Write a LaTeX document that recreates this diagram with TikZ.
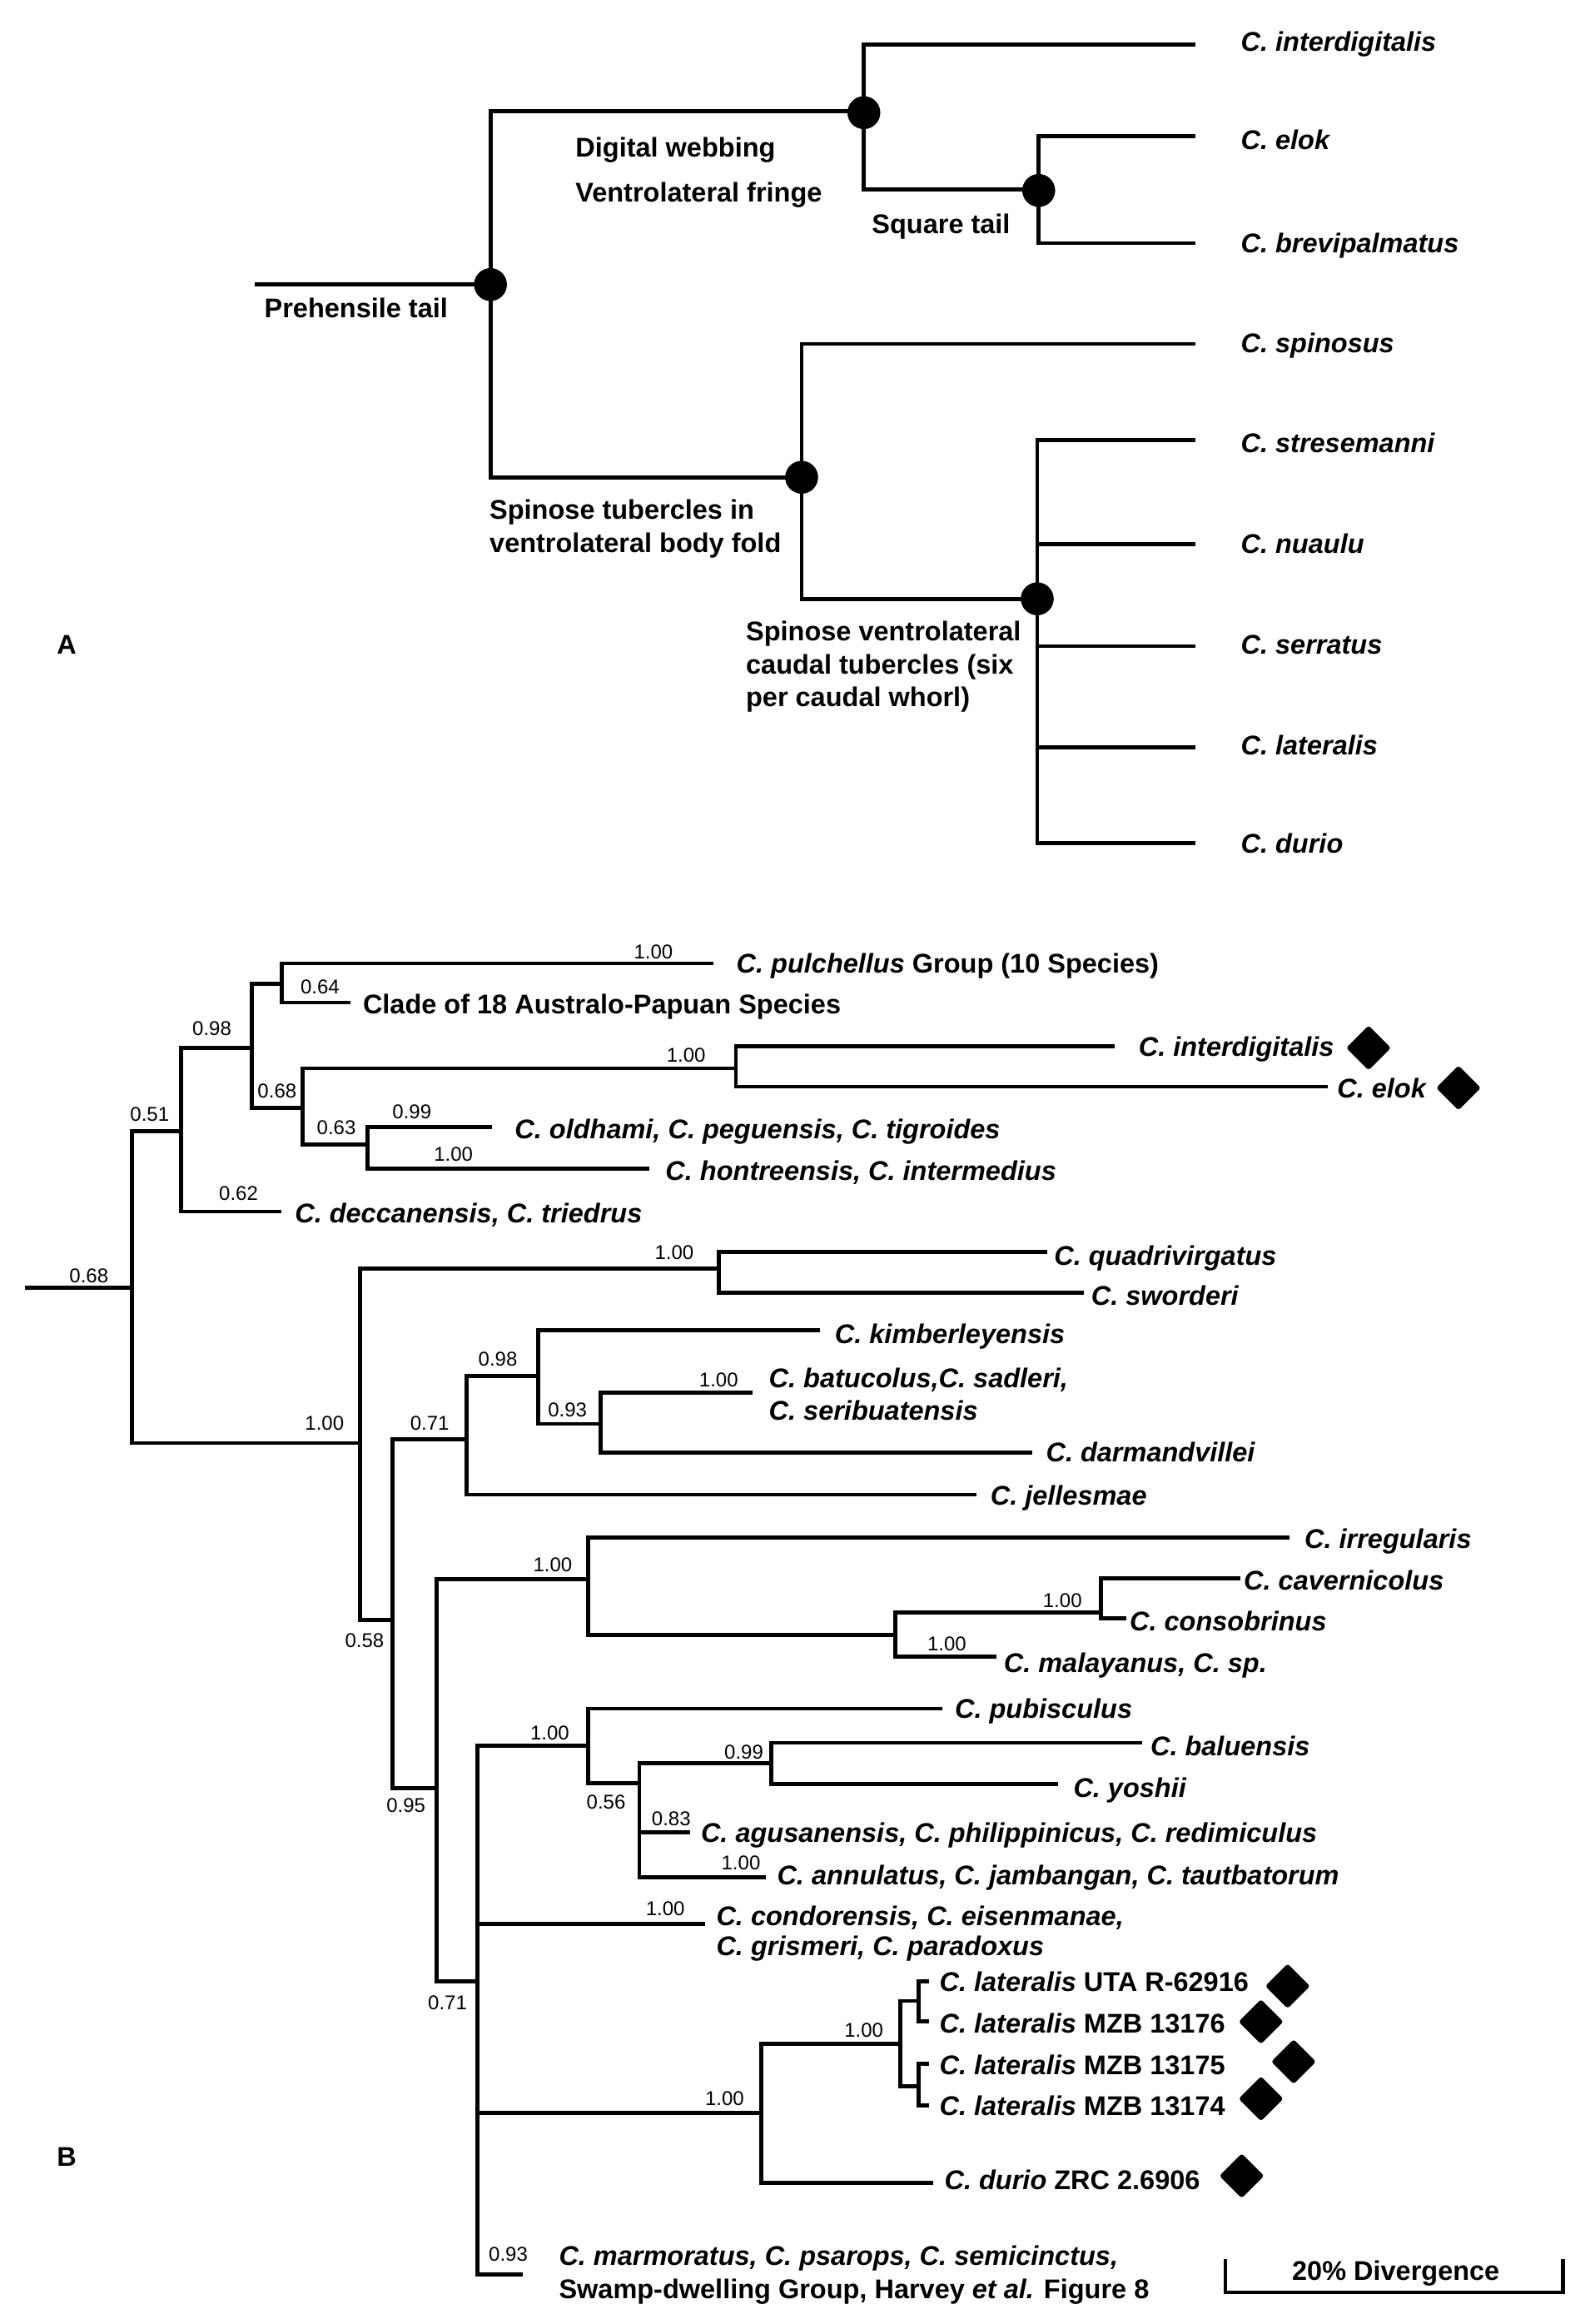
\documentclass[tikz,border=0pt]{standalone}
\usepackage{fontspec}
\setmainfont{Liberation Sans}
\usetikzlibrary{shapes.geometric}
\begin{document}
\begin{tikzpicture}[x=0.4449pt,y=-0.4449pt,
  br/.style={line width=1.2pt},
  tx/.style={font=\fontsize{8.12pt}{10pt}\selectfont\bfseries, inner sep=0pt, anchor=base west},
  num/.style={font=\fontsize{6pt}{7pt}\selectfont, inner sep=0pt},
  dot/.style={circle, fill=black, inner sep=0pt, minimum size=9.8pt},
  dia/.style={diamond, fill=black, inner sep=0pt, minimum width=13.6pt, minimum height=13.6pt, rounded corners=0.8pt}]
\useasboundingbox (0,0) rectangle (1076,1568);

% ================= Panel A =================
\coordinate (ar) at (172,192);
\node[dot] (a1) at (331,192) {};
\node[dot] (a2) at (583,76) {};
\node[dot] (a3) at (701,128.5) {};
\node[dot] (a4) at (541,322) {};
\node[dot] (a5) at (700,404) {};
\coordinate (a2in) at (583,75);
\coordinate (a3in) at (701,128);
\coordinate (a4in) at (541,322);
\coordinate (a5in) at (700,404);
\coordinate (at1) at (807,30);
\coordinate (at2) at (807,92);
\coordinate (at3) at (807,164);
\coordinate (at4) at (807,232);
\coordinate (at5) at (807,297);
\coordinate (at6) at (807,367);
\coordinate (at7) at (807,436);
\coordinate (at8) at (807,504);
\coordinate (at9) at (807,569);

\draw[br] (ar) -- (a1.center);
\draw[br] (a1.center) |- (a2in);
\draw[br] (a1.center) |- (a4in);
\draw[br] (a2.center) |- (at1);
\draw[br] (a2.center) |- (a3in);
\draw[br] (a3.center) |- (at2);
\draw[br] (a3.center) |- (at3);
\draw[br] (a4.center) |- (at4);
\draw[br] (a4.center) |- (a5in);
\foreach \t in {at5,at6,at7,at8,at9} \draw[br] (a5.center) |- (\t);
\node[dot] at (a1) {};
\node[dot] at (a2) {};
\node[dot] at (a3) {};
\node[dot] at (a4) {};
\node[dot] at (a5) {};

\node[tx] (la1) at (837,34.5) {\textit{C. interdigitalis}};
\node[tx] (la2) at (837,101) {\textit{C. elok}};
\node[tx] (la3) at (837,170.5) {\textit{C. brevipalmatus}};
\node[tx] (la4) at (837,238) {\textit{C. spinosus}};
\node[tx] (la5) at (837,305.5) {\textit{C. stresemanni}};
\node[tx] (la6) at (837,373.5) {\textit{C. nuaulu}};
\node[tx] (la7) at (837,441.5) {\textit{C. serratus}};
\node[tx] (la8) at (837,509.5) {\textit{C. lateralis}};
\node[tx] (la9) at (837,575.5) {\textit{C. durio}};

\node[tx] (ca1) at (178,214.5) {Prehensile tail};
\node[tx] (ca2) at (388,106) {Digital webbing};
\node[tx] (ca3) at (388,136.5) {Ventrolateral fringe};
\node[tx] (ca4) at (588,157.5) {Square tail};
\node[tx] (ca5) at (330,350.5) {Spinose tubercles in};
\node[tx] (ca6) at (330,372.5) {ventrolateral body fold};
\node[tx] (ca7) at (503,432.5) {Spinose ventrolateral};
\node[tx] (ca8) at (503,454.5) {caudal tubercles (six};
\node[tx] (ca9) at (503,476.5) {per caudal whorl)};
\node[tx] (lA) at (38,441.5) {A};

% ================= Panel B =================
\coordinate (r0) at (17,869);
\coordinate (b1) at (89,869);
\coordinate (b2) at (122,763);
\coordinate (b3) at (170,707);
\coordinate (b4) at (190,663.8);
\coordinate (b5) at (204,747.6);
\coordinate (b6) at (496.6,720.8);
\coordinate (b7) at (248,772.4);
\coordinate (b8) at (243,973.6);
\coordinate (b9) at (485,856);
\coordinate (b10) at (265,1092.8);
\coordinate (b11) at (315,971);
\coordinate (b12) at (363,928.5);
\coordinate (b13) at (405.5,960.7);
\coordinate (b14) at (294.5,1206.6);
\coordinate (b15) at (397,1065.4);
\coordinate (b16) at (604,1103);
\coordinate (b17) at (743,1088);
\coordinate (b18) at (322,1336.6);
\coordinate (b19) at (397,1178);
\coordinate (b20) at (431.5,1203);
\coordinate (b21) at (520.6,1189.4);
\coordinate (b22) at (513.7,1425.7);
\coordinate (b23) at (607.6,1378.9);
\coordinate (b24) at (620,1350);
\coordinate (b25) at (620,1407.6);

\coordinate (t1) at (481.6,650);
\coordinate (t2) at (236.3,676.4);
\coordinate (t3) at (752,705.7);
\coordinate (t4) at (896,733.1);
\coordinate (t5) at (332,760.4);
\coordinate (t6) at (438.4,788.5);
\coordinate (t7) at (189.7,817.4);
\coordinate (t8) at (707,844.8);
\coordinate (t9) at (731.6,872.2);
\coordinate (t10) at (553.5,897.3);
\coordinate (t11) at (508,939.8);
\coordinate (t12) at (696.6,980);
\coordinate (t13) at (659,1008.4);
\coordinate (t14) at (870,1037.4);
\coordinate (t15) at (837,1064.7);
\coordinate (t16) at (760,1091.8);
\coordinate (t17) at (672.7,1117.5);
\coordinate (t18) at (635.7,1152.8);
\coordinate (t19) at (770.6,1175.8);
\coordinate (t20) at (713.8,1203.6);
\coordinate (t21) at (465.8,1236.2);
\coordinate (t22) at (517,1266.5);
\coordinate (t23) at (476,1297.9);
\coordinate (t24) at (626.8,1336.6);
\coordinate (t25) at (626.8,1363.8);
\coordinate (t26) at (626.8,1392.5);
\coordinate (t27) at (626.8,1420.3);
\coordinate (t28) at (630,1472.6);
\coordinate (t29) at (352.8,1534.5);

\draw[br] (r0) -- (b1);
\draw[br] (b1) |- (b2);  \draw[br] (b1) |- (b8);
\draw[br] (b2) |- (b3);  \draw[br] (b2) |- (t7);
\draw[br] (b3) |- (b4);  \draw[br] (b3) |- (b5);
\draw[br] (b4) |- (t1);  \draw[br] (b4) |- (t2);
\draw[br] (b5) |- (b6);  \draw[br] (b5) |- (b7);
\draw[br] (b6) |- (t3);  \draw[br] (b6) |- (t4);
\draw[br] (b7) |- (t5);  \draw[br] (b7) |- (t6);
\draw[br] (b8) |- (b9);  \draw[br] (b8) |- (b10);
\draw[br] (b9) |- (t8);  \draw[br] (b9) |- (t9);
\draw[br] (b10) |- (b11); \draw[br] (b10) |- (b14);
\draw[br] (b11) |- (b12); \draw[br] (b11) |- (t13);
\draw[br] (b12) |- (t10); \draw[br] (b12) |- (b13);
\draw[br] (b13) |- (t11); \draw[br] (b13) |- (t12);
\draw[br] (b14) |- (b15); \draw[br] (b14) |- (b18);
\draw[br] (b15) |- (t14); \draw[br] (b15) |- (b16);
\draw[br] (b16) |- (b17); \draw[br] (b16) |- (t17);
\draw[br] (b17) |- (t15); \draw[br] (b17) |- (t16);
\draw[br] (b18) |- (b19); \draw[br] (b18) |- (t23);
\draw[br] (b18) |- (b22); \draw[br] (b18) |- (t29);
\draw[br] (b19) |- (t18); \draw[br] (b19) |- (b20);
\draw[br] (b20) |- (b21); \draw[br] (b20) |- (t21); \draw[br] (b20) |- (t22);
\draw[br] (b21) |- (t19); \draw[br] (b21) |- (t20);
\draw[br] (b22) |- (b23); \draw[br] (b22) |- (t28);
\draw[br] (b23) |- (b24); \draw[br] (b23) |- (b25);
\draw[br] (b24) |- (t24); \draw[br] (b24) |- (t25);
\draw[br] (b25) |- (t26); \draw[br] (b25) |- (t27);

% taxa labels
\node[tx] (lb1) at (496.6,656.5) {\textit{C. pulchellus} Group (10 Species)};
\node[tx] (lb2) at (244.5,684) {Clade of 18 Australo-Papuan Species};
\node[tx] (lb3) at (768,712.5) {\textit{C. interdigitalis}};
\node[tx] (lb4) at (902,740.5) {\textit{C. elok}};
\node[tx] (lb5) at (347,768.5) {\textit{C. oldhami, C. peguensis, C. tigroides}};
\node[tx] (lb6) at (448.7,796.5) {\textit{C. hontreensis, C. intermedius}};
\node[tx] (lb7) at (198.6,825) {\textit{C. deccanensis, C. triedrus}};
\node[tx] (lb8) at (711,853.5) {\textit{C. quadrivirgatus}};
\node[tx] (lb9) at (736,880.5) {\textit{C. sworderi}};
\node[tx] (lb10) at (563,906.5) {\textit{C. kimberleyensis}};
\node[tx] (lb11) at (518.5,936) {\textit{C. batucolus,C. sadleri,}};
\node[tx] (lb11b) at (518.5,958) {\textit{C. seribuatensis}};
\node[tx] (lb12) at (705.5,986.5) {\textit{C. darmandvillei}};
\node[tx] (lb13) at (668,1015.5) {\textit{C. jellesmae}};
\node[tx] (lb14) at (880,1044.5) {\textit{C. irregularis}};
\node[tx] (lb15) at (839,1072.5) {\textit{C. cavernicolus}};
\node[tx] (lb16) at (762,1100.5) {\textit{C. consobrinus}};
\node[tx] (lb17) at (677,1128.5) {\textit{C. malayanus, C. sp.}};
\node[tx] (lb18) at (644,1159.5) {\textit{C. pubisculus}};
\node[tx] (lb19) at (776,1184.5) {\textit{C. baluensis}};
\node[tx] (lb20) at (724,1212.5) {\textit{C. yoshii}};
\node[tx] (lb21) at (472.6,1243) {\textit{C. agusanensis, C. philippinicus, C. redimiculus}};
\node[tx] (lb22) at (524,1271.5) {\textit{C. annulatus, C. jambangan, C. tautbatorum}};
\node[tx] (lb23) at (483,1299) {\textit{C. condorensis, C. eisenmanae,}};
\node[tx] (lb23b) at (483,1319.5) {\textit{C. grismeri, C. paradoxus}};
\node[tx] (lb24) at (633.6,1343.5) {\textit{C. lateralis} UTA R-62916};
\node[tx] (lb25) at (633.6,1371.5) {\textit{C. lateralis} MZB 13176};
\node[tx] (lb26) at (633.6,1399.5) {\textit{C. lateralis} MZB 13175};
\node[tx] (lb27) at (633.6,1427.5) {\textit{C. lateralis} MZB 13174};
\node[tx] (lb28) at (637,1477.5) {\textit{C. durio} ZRC 2.6906};
\node[tx] (lb29) at (376.8,1528.5) {\textit{C. marmoratus, C. psarops, C. semicinctus,}};
\node[tx] (lb29b) at (376.8,1551) {Swamp-dwelling Group, Harvey \textit{et al.} Figure 8};
\node[tx] (lB) at (38,1461.5) {B};

% diamonds
\node[dia] (d1) at (923.6,707) {};
\node[dia] (d2) at (984.3,734) {};
\node[dia] (d3) at (869,1340) {};
\node[dia] (d4) at (851,1364) {};
\node[dia] (d5) at (873,1391) {};
\node[dia] (d6) at (851,1416) {};
\node[dia] (d7) at (838,1468) {};

% support values
\node[num] (n1) at (441,642) {1.00};
\node[num] (n2) at (216,666) {0.64};
\node[num] (n3) at (143,694) {0.98};
\node[num] (n4) at (101,752) {0.51};
\node[num] (n5) at (60,861) {0.68};
\node[num] (n6) at (463,712) {1.00};
\node[num] (n7) at (187,736) {0.68};
\node[num] (n8) at (227,761) {0.63};
\node[num] (n9) at (278,750) {0.99};
\node[num] (n10) at (306,779) {1.00};
\node[num] (n11) at (161,805) {0.62};
\node[num] (n12) at (455,845) {1.00};
\node[num] (n13) at (336,917) {0.98};
\node[num] (n14) at (485,931) {1.00};
\node[num] (n15) at (383,951) {0.93};
\node[num] (n16) at (219,960) {1.00};
\node[num] (n17) at (290,960) {0.71};
\node[num] (n18) at (373,1056) {1.00};
\node[num] (n19) at (717,1080) {1.00};
\node[num] (n20) at (639,1109) {1.00};
\node[num] (n21) at (246,1107) {0.58};
\node[num] (n22) at (371,1169) {1.00};
\node[num] (n23) at (502,1182) {0.99};
\node[num] (n24) at (409,1216) {0.56};
\node[num] (n25) at (274,1218) {0.95};
\node[num] (n26) at (453,1227) {0.83};
\node[num] (n27) at (500,1257) {1.00};
\node[num] (n28) at (449,1288) {1.00};
\node[num] (n29) at (302,1351) {0.71};
\node[num] (n30) at (583,1370) {1.00};
\node[num] (n31) at (489,1416) {1.00};
\node[num] (n32) at (343,1521) {0.93};

% scale bar
\coordinate (s1) at (827,1524);
\coordinate (s2) at (827,1546.6);
\coordinate (s3) at (1055,1546.6);
\coordinate (s4) at (1055,1524);
\draw[br] (s1) -- (s2) -- (s3) -- (s4);
\node[tx, anchor=base] (sbl) at (942,1538.5) {20\% Divergence};
\end{tikzpicture}
\end{document}
